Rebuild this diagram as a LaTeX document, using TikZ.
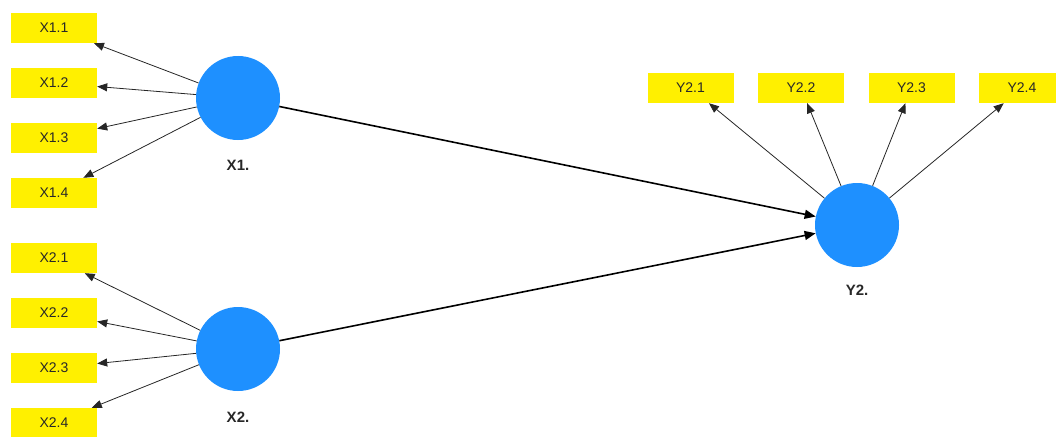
\documentclass[tikz,border=0pt]{standalone}
\usepackage{fontspec}
\setmainfont{Liberation Sans}
\usetikzlibrary{arrows.meta}
\definecolor{lvblue}{RGB}{30,144,255}
\definecolor{indyellow}{RGB}{255,240,0}
\definecolor{labelink}{RGB}{40,40,40}
\begin{document}
\begin{tikzpicture}[x=1pt,y=-1pt,
  indicator/.style={fill=indyellow, minimum width=86pt, minimum height=30pt,
    inner sep=0pt, text=labelink, font=\fontsize{14}{14}\selectfont},
  latent/.style={circle, fill=lvblue, minimum size=84pt, inner sep=0pt},
  lvlabel/.style={text=labelink, font=\bfseries\fontsize{15}{15}\selectfont},
  loading/.style={-{Triangle[length=10pt,width=8pt]}, line width=0.8pt, draw=black!85},
  structural/.style={-{Triangle[length=11pt,width=9pt]}, line width=1.6pt}]

\useasboundingbox (0,0) rectangle (1056,436);
\begin{scope}
\clip (0,0) rectangle (1056,436);

% latent variables
\node[latent] (X1) at (238,98) {};
\node[latent] (X2) at (238,349) {};
\node[latent] (Y2) at (857,225) {};
\node[lvlabel] (X1lab) at (238,165) {X1.};
\node[lvlabel] (X2lab) at (238,417) {X2.};
\node[lvlabel] (Y2lab) at (857,290) {Y2.};

% indicators of X1
\node[indicator] (x11) at (54,28)  {X1.1};
\node[indicator] (x12) at (54,83)  {X1.2};
\node[indicator] (x13) at (54,138) {X1.3};
\node[indicator] (x14) at (54,193) {X1.4};

% indicators of X2
\node[indicator] (x21) at (54,258) {X2.1};
\node[indicator] (x22) at (54,313) {X2.2};
\node[indicator] (x23) at (54,368) {X2.3};
\node[indicator] (x24) at (54,423) {X2.4};

% indicators of Y2
\node[indicator] (y21) at (690.5,88) {Y2.1};
\node[indicator] (y22) at (801,88)   {Y2.2};
\node[indicator] (y23) at (911.5,88) {Y2.3};
\node[indicator] (y24) at (1022,88)  {Y2.4};

% outer loadings
\foreach \i in {1,...,4} {
  \draw[loading] (X1) -- (x1\i);
  \draw[loading] (X2) -- (x2\i);
  \draw[loading] (Y2) -- (y2\i);
}

% structural paths
\draw[structural] (X1) -- (Y2);
\draw[structural] (X2) -- (Y2);
\end{scope}
\end{tikzpicture}
\end{document}
